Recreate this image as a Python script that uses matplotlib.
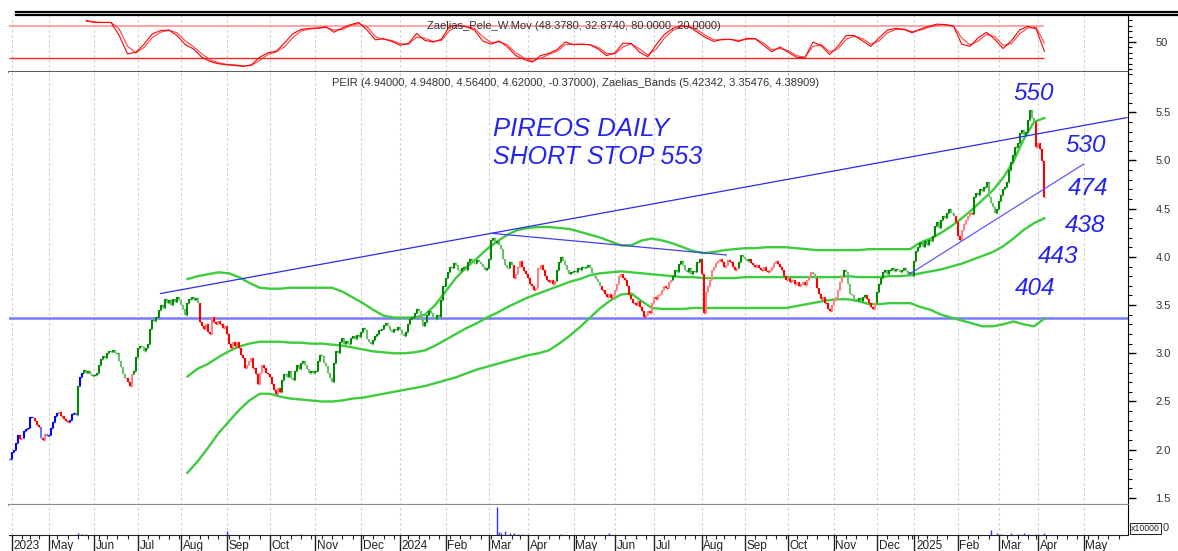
import numpy as np
import pandas as pd
import matplotlib
matplotlib.use("Agg")
import matplotlib.pyplot as plt
from matplotlib.lines import Line2D
from matplotlib.ticker import MultipleLocator, FixedLocator

plt.rcParams["font.family"] = ["Liberation Sans", "DejaVu Sans"]

W, H = 1178, 551

# ── Data ─────────────────────────────────────────────────────────────────────
# ATHEX closing days inside the plotted history
holidays = [
    "2023-04-14", "2023-04-17", "2023-05-01", "2023-06-05", "2023-08-15",
    "2023-12-25", "2023-12-26",
    "2024-01-01", "2024-03-18", "2024-03-25", "2024-05-01", "2024-05-03",
    "2024-05-06", "2024-06-24", "2024-08-15", "2024-10-28", "2024-12-24",
    "2024-12-25", "2024-12-26", "2024-12-31",
    "2025-01-01", "2025-01-06", "2025-03-03", "2025-03-25",
]

# daily closes, one row per month (first row: 31 Mar + April 2023)
close_2023 = [
    1.90, 1.98, 2.00, 2.07, 2.15, 2.11, 2.12, 2.19, 2.21, 2.22, 2.34, 2.33, 2.30, 2.26, 2.24, 2.12, 2.10, 2.16, 2.14,
    2.15, 2.22, 2.29, 2.35, 2.38, 2.39, 2.35, 2.32, 2.30, 2.29, 2.31, 2.37, 2.38, 2.36, 2.66, 2.75, 2.80, 2.83, 2.80, 2.82, 2.78, 2.76,
    2.77, 2.80, 2.88, 2.94, 2.97, 2.95, 3.00, 3.02, 3.01, 3.03, 3.00, 3.00, 2.92, 2.86, 2.78, 2.74, 2.70, 2.66, 2.78, 2.82, 2.96,
    3.05, 3.08, 3.06, 3.02, 3.05, 3.10, 3.25, 3.35, 3.33, 3.38, 3.45, 3.50, 3.47, 3.56, 3.52, 3.55, 3.50, 3.56, 3.53, 3.58, 3.55,
    3.50, 3.46, 3.40, 3.52, 3.56, 3.58, 3.55, 3.57, 3.52, 3.32, 3.28, 3.25, 3.30, 3.22, 3.20, 3.38, 3.32, 3.30, 3.33, 3.30, 3.26, 3.28,
    3.20, 3.10, 3.05, 3.12, 3.08, 3.12, 3.05, 2.98, 2.95, 2.85, 2.88, 2.92, 2.95, 2.85, 2.78, 2.68, 2.80, 2.88, 2.85, 2.80, 2.78,
    2.75, 2.68, 2.62, 2.58, 2.64, 2.60, 2.72, 2.78, 2.75, 2.82, 2.74, 2.72, 2.82, 2.88, 2.84, 2.90, 2.92, 2.88, 2.84, 2.80, 2.82, 2.80,
    2.82, 2.92, 2.98, 2.97, 2.90, 2.87, 2.80, 2.74, 2.70, 2.90, 3.02, 3.00, 3.12, 3.16, 3.10, 3.13, 3.10, 3.16, 3.18, 3.15, 3.19, 3.17,
    3.22, 3.26, 3.24, 3.15, 3.12, 3.10, 3.14, 3.18, 3.20, 3.24, 3.25, 3.29, 3.31, 3.28, 3.24, 3.22, 3.25, 3.24, 3.27,
]
close_2024 = [
    3.24, 3.20, 3.18, 3.22, 3.30, 3.36, 3.38, 3.42, 3.46, 3.44, 3.35, 3.28, 3.32, 3.40, 3.44, 3.42, 3.38, 3.36, 3.40, 3.38, 3.55, 3.70,
    3.78, 3.84, 3.90, 3.88, 3.94, 3.92, 3.86, 3.85, 3.88, 3.90, 3.86, 3.95, 3.98, 3.96, 3.94, 3.97, 3.95, 3.93, 3.90, 3.86, 3.88,
    3.98, 4.18, 4.20, 4.14, 4.16, 4.12, 4.08, 3.98, 3.92, 3.88, 3.95, 3.92, 3.78, 3.82, 3.90, 3.96, 3.90, 3.85, 3.82,
    3.78, 3.72, 3.70, 3.66, 3.68, 3.88, 3.92, 3.86, 3.80, 3.76, 3.74, 3.76, 3.72, 3.75, 3.86, 3.95, 4.00, 3.96, 3.92, 3.86, 3.82, 3.84,
    3.85, 3.84, 3.88, 3.86, 3.89, 3.88, 3.90, 3.92, 3.88, 3.83, 3.80, 3.77, 3.74, 3.70, 3.66, 3.62, 3.58, 3.62, 3.57, 3.60,
    3.66, 3.72, 3.80, 3.82, 3.78, 3.76, 3.70, 3.60, 3.56, 3.52, 3.50, 3.54, 3.48, 3.44, 3.38, 3.40, 3.44, 3.42, 3.52,
    3.58, 3.56, 3.60, 3.62, 3.66, 3.70, 3.68, 3.74, 3.76, 3.80, 3.86, 3.84, 3.93, 3.96, 3.92, 3.86, 3.84, 3.88, 3.82, 3.85, 3.84, 3.95, 3.98,
    3.82, 3.42, 3.64, 3.70, 3.76, 3.86, 3.90, 3.94, 3.96, 3.98, 3.95, 3.90, 3.92, 3.97, 3.95, 3.90, 3.86, 3.88, 3.95, 4.02, 4.00,
    3.98, 3.96, 3.98, 3.94, 3.92, 3.90, 3.92, 3.88, 3.86, 3.89, 3.85, 3.84, 3.86, 3.90, 3.94, 3.96, 3.93, 3.90, 3.86, 3.80, 3.76,
    3.78, 3.74, 3.76, 3.72, 3.74, 3.70, 3.72, 3.74, 3.71, 3.76, 3.80, 3.84, 3.82, 3.78, 3.68, 3.62, 3.56, 3.58, 3.52, 3.46, 3.44, 3.50,
    3.55, 3.58, 3.66, 3.74, 3.80, 3.86, 3.84, 3.72, 3.62, 3.60, 3.56, 3.55, 3.57, 3.54, 3.58, 3.60, 3.56, 3.52, 3.48, 3.46, 3.52,
    3.64, 3.72, 3.78, 3.84, 3.86, 3.82, 3.86, 3.88, 3.85, 3.87, 3.86, 3.84, 3.86, 3.88, 3.85, 3.82, 3.84, 3.80,
]
close_2025 = [
    3.96, 4.06, 4.10, 4.14, 4.10, 4.16, 4.12, 4.18, 4.16, 4.22, 4.32, 4.36, 4.30, 4.38, 4.42, 4.40, 4.46, 4.50, 4.46, 4.42, 4.36,
    4.22, 4.18, 4.28, 4.34, 4.38, 4.42, 4.46, 4.44, 4.62, 4.66, 4.64, 4.70, 4.68, 4.72, 4.78, 4.62, 4.56, 4.52, 4.46, 4.50,
    4.58, 4.64, 4.70, 4.72, 4.78, 4.90, 4.98, 5.06, 5.14, 5.18, 5.28, 5.32, 5.26, 5.30, 5.42, 5.52, 5.44, 5.40, 5.14,
    5.18, 5.12, 4.99, 4.62,
]

# expert colouring of the bars: (first trading-day index, colour)
bar_color_runs = [
    (0, "b"), (5, "r"), (7, "b"), (12, "r"), (15, "b"), (16, "r"), (18, "b"),
    (24, "r"), (29, "b"), (33, "g"), (34, "b"), (36, "g"), (57, "r"), (60, "g"),
    (92, "r"), (132, "g"), (244, "r"), (265, "g"), (287, "r"), (321, "g"),
    (335, "r"), (353, "g"), (359, "r"), (389, "g"), (391, "r"), (404, "g"),
    (415, "r"), (420, "g"), (458, "r"), (467, "g"), (497, "r"),
]

# Zaelias bands, one point every 5 trading days from index 86
band_first, band_step = 86, 5
band_upper = [
    3.77, 3.80, 3.82, 3.84, 3.83, 3.79, 3.73, 3.68, 3.67, 3.67,
    3.68, 3.68, 3.68, 3.68, 3.68, 3.64, 3.58, 3.52, 3.45, 3.39,
    3.37, 3.37, 3.37, 3.40, 3.50, 3.64, 3.78, 3.89, 3.98, 4.08,
    4.16, 4.23, 4.28, 4.30, 4.31, 4.31, 4.30, 4.29, 4.26, 4.23,
    4.20, 4.16, 4.12, 4.12, 4.17, 4.19, 4.17, 4.14, 4.10, 4.06,
    4.04, 4.05, 4.07, 4.08, 4.09, 4.09, 4.10, 4.10, 4.10, 4.09,
    4.08, 4.07, 4.07, 4.07, 4.07, 4.07, 4.08, 4.08, 4.08, 4.08,
    4.08, 4.15, 4.19, 4.25, 4.32, 4.40, 4.49, 4.59, 4.69, 4.82,
    4.99, 5.22, 5.40, 5.44,
]
band_middle = [
    2.76, 2.84, 2.89, 2.96, 3.02, 3.07, 3.10, 3.12, 3.12, 3.12,
    3.11, 3.11, 3.10, 3.10, 3.09, 3.08, 3.06, 3.04, 3.02, 3.01,
    3.00, 3.00, 3.01, 3.03, 3.08, 3.14, 3.20, 3.26, 3.31, 3.37,
    3.42, 3.48, 3.53, 3.58, 3.62, 3.66, 3.70, 3.74, 3.77, 3.81,
    3.83, 3.84, 3.85, 3.84, 3.83, 3.82, 3.81, 3.80, 3.79, 3.79,
    3.78, 3.78, 3.78, 3.78, 3.79, 3.79, 3.79, 3.79, 3.79, 3.79,
    3.79, 3.79, 3.79, 3.79, 3.80, 3.79, 3.79, 3.79, 3.80, 3.80,
    3.81, 3.83, 3.85, 3.87, 3.90, 3.93, 3.97, 4.01, 4.05, 4.11,
    4.19, 4.28, 4.35, 4.40,
]
band_lower = [
    1.76, 1.88, 2.02, 2.17, 2.29, 2.41, 2.51, 2.58, 2.58, 2.55,
    2.53, 2.52, 2.51, 2.50, 2.50, 2.51, 2.53, 2.54, 2.56, 2.58,
    2.60, 2.62, 2.64, 2.66, 2.69, 2.72, 2.75, 2.79, 2.83, 2.86,
    2.89, 2.92, 2.95, 2.98, 3.00, 3.03, 3.10, 3.18, 3.27, 3.37,
    3.47, 3.55, 3.61, 3.62, 3.54, 3.47, 3.46, 3.46, 3.46, 3.47,
    3.47, 3.47, 3.47, 3.47, 3.47, 3.47, 3.47, 3.47, 3.47, 3.49,
    3.51, 3.53, 3.55, 3.56, 3.56, 3.54, 3.51, 3.51, 3.52, 3.52,
    3.52, 3.48, 3.45, 3.40, 3.37, 3.34, 3.31, 3.28, 3.28, 3.30,
    3.33, 3.30, 3.28, 3.36,
]

# Zaelias_Pele_W.Mov, one point every 4 trading days from index 37
osc_first, osc_step = 37, 4
osc_fast = [
    90, 86, 86, 86, 62, 28, 31, 46, 65, 71,
    72, 62, 45, 37, 22, 14, 10, 8, 7, 5,
    8, 22, 30, 33, 48, 65, 73, 75, 76, 78,
    68, 76, 82, 86, 72, 54, 56, 51, 44, 47,
    66, 53, 50, 55, 79, 81, 78, 72, 52, 46,
    52, 41, 25, 18, 13, 25, 29, 36, 50, 45,
    46, 45, 37, 25, 30, 48, 47, 31, 23, 45,
    64, 75, 80, 78, 68, 58, 51, 55, 55, 51,
    57, 56, 44, 32, 41, 31, 22, 21, 50, 43,
    27, 42, 62, 62, 52, 42, 58, 72, 75, 73,
    67, 74, 79, 83, 82, 79, 46, 42, 58, 68,
    55, 38, 52, 72, 79, 74, 33,
]
osc_slow = [
    88, 87, 86, 86, 74, 42, 30, 40, 58, 68,
    72, 67, 52, 41, 28, 17, 12, 9, 8, 6,
    7, 16, 27, 32, 41, 58, 70, 74, 75, 77,
    72, 73, 80, 84, 78, 60, 55, 53, 47, 46,
    59, 57, 51, 53, 71, 80, 79, 75, 60, 49,
    50, 45, 30, 21, 15, 20, 27, 33, 45, 46,
    46, 45, 40, 29, 28, 41, 47, 37, 26, 37,
    57, 71, 78, 79, 72, 62, 54, 54, 55, 53,
    55, 56, 48, 36, 38, 34, 25, 22, 42, 45,
    32, 37, 55, 61, 56, 46, 52, 67, 73, 74,
    69, 72, 77, 81, 82, 80, 57, 45, 52, 64,
    60, 44, 47, 65, 76, 77, 48,
]
osc_levels = (80, 20)

# volume (x10000), only the visible spikes
vol_idx = [33, 35, 37, 105, 141, 236, 237, 238, 240, 242, 244, 246, 248,
           267, 290, 399, 475, 478, 480, 485, 488, 491, 493, 497, 501]
vol_vals = [8, 5, 3, 12, 5, 95, 10, 8, 12, 8, 6, 5, 4,
            5, 6, 3, 18, 6, 5, 6, 5, 6, 5, 4, 6]

# hand-drawn lines: (start date, start price, end date, end price)
trendlines = [
    ("2023-07-18", 3.62, "2025-05-30", 5.445),
    ("2024-03-04", 4.245, "2024-08-20", 4.02),
    ("2024-12-27", 3.826, "2025-05-01", 4.963),
]
support_level = 3.365
price_ticks = [1.5, 2.0, 2.5, 3.0, 3.5, 4.0, 4.5, 5.0, 5.5]

# ── Calendar ─────────────────────────────────────────────────────────────────
days = pd.bdate_range("2023-03-31", "2025-06-06")
days = days[~days.isin(pd.to_datetime(holidays))]


def pos(d):
    return days.get_loc(pd.Timestamp(d))


xlim = (-0.4, 541.5)
last = int(xlim[1])
month_start = [i for i in range(1, last + 1) if days[i].month != days[i - 1].month]
week_start = [i for i in range(1, last + 1) if days[i].weekday() < days[i - 1].weekday()]

# ── Figure / panels ──────────────────────────────────────────────────────────
fig = plt.figure(figsize=(W / 100, H / 100), dpi=100)
fig.patch.set_facecolor("white")


def rect(x0, y0, x1, y1):
    return [x0 / W, 1 - y1 / H, (x1 - x0) / W, (y1 - y0) / H]


ax_osc = fig.add_axes(rect(9, 16, 1128, 72))
ax = fig.add_axes(rect(9, 72, 1128, 505))
ax_vol = fig.add_axes(rect(9, 505, 1128, 535))

for a in (ax_osc, ax, ax_vol):
    a.set_xlim(xlim)
    a.set_facecolor("white")
    for m in month_start:
        a.axvline(m, color="#c8c8c8", lw=0.8, ls=(0, (2, 2.5)), zorder=0)
    a.spines["left"].set_visible(False)
    a.spines["top"].set_visible(False)
    a.spines["right"].set_color("black")
    a.yaxis.tick_right()
    a.tick_params(axis="x", which="both", bottom=False, labelbottom=False)
    a.tick_params(axis="y", which="both", colors="black", labelcolor="#333333")

# ── Oscillator panel ─────────────────────────────────────────────────────────
ox = osc_first + osc_step * np.arange(len(osc_fast))
n_bars = len(close_2023) + len(close_2024) + len(close_2025)
ax_osc.hlines(osc_levels[0], xlim[0], n_bars - 1, color="#ff9c9c", lw=1.3, zorder=1)
ax_osc.hlines(osc_levels[1], xlim[0], n_bars - 1, color="#ff2424", lw=1.0, zorder=1)
ax_osc.plot(ox, osc_slow, color="#ff4040", lw=0.8, zorder=2)
ax_osc.plot(ox, osc_fast, color="#ff0000", lw=0.8, zorder=2)
ax_osc.set_ylim(-5.2, 97.9)
ax_osc.yaxis.set_major_locator(FixedLocator([50]))
ax_osc.yaxis.set_minor_locator(FixedLocator(range(0, 100, 10)))
ax_osc.tick_params(axis="y", which="major", length=5.8, width=1, pad=14, labelsize=8)
ax_osc.tick_params(axis="y", which="minor", length=2.9, width=0.8)
ax_osc.spines["bottom"].set_color("#3c3c3c")
ax_osc.spines["bottom"].set_linewidth(1.2)

# ── Price panel ──────────────────────────────────────────────────────────────
closes = np.array(close_2023 + close_2024 + close_2025)
n = len(closes)
xi = np.arange(n)
prev = np.r_[closes[0], closes[:-1]]

key = np.empty(n, dtype=object)
run_ends = [r[0] for r in bar_color_runs[1:]] + [n]
for (start, k), end in zip(bar_color_runs, run_ends):
    key[start:end] = k

shades = {"g": ("#008a00", "#6cc06c"), "r": ("#ff0000", "#ff8080"), "b": ("#0000ff", "#7474ff")}
bar_cols = []
for c, p, k in zip(closes, prev, key):
    against = (c > p) if k == "r" else (c < p)
    bar_cols.append(shades[k][1 if against else 0])

ax.axhline(support_level, color="#7a7aff", lw=1.8, zorder=1)

bx = band_first + band_step * np.arange(len(band_upper))
for band in (band_upper, band_middle, band_lower):
    ax.plot(bx, band, color="#3ccc3c", lw=1.7, zorder=2)

# bars: body from previous close to close, ticks at both ends
ax.vlines(xi, np.minimum(prev, closes), np.maximum(prev, closes),
          colors=bar_cols, lw=1.5, zorder=3)
ax.hlines(prev, xi - 0.5, xi, colors=bar_cols, lw=1.0, zorder=3)
ax.hlines(closes, xi, xi + 0.5, colors=bar_cols, lw=1.0, zorder=3)

line_cols = ["#2b2bea", "#3f3ff0", "#5a5aff"]
for (d0, p0, d1, p1), lc in zip(trendlines, line_cols):
    ax.plot([pos(d0), pos(d1)], [p0, p1], color=lc, lw=0.9, zorder=4)

ax.set_ylim(1.426, 5.918)
ax.set_yticks(price_ticks)
ax.set_yticklabels([f"{v:.1f}" for v in price_ticks])
ax.yaxis.set_minor_locator(MultipleLocator(0.1))
ax.tick_params(axis="y", which="major", length=5.8, width=1, pad=14, labelsize=8)
ax.tick_params(axis="y", which="minor", length=2.9, width=0.8)
ax.spines["bottom"].set_color("#8a8a8a")
ax.spines["bottom"].set_linewidth(1.6)

# hand-written notes
hand = dict(color="#2424f0", style="italic", zorder=6)
ax.text(pos("2024-03-05"), 5.255, "PIREOS DAILY", fontsize=18.5, **hand)
ax.text(pos("2024-03-05"), 4.965, "SHORT STOP 553", fontsize=18, **hand)
notes = [("550", 485.8, 5.628), ("530", 511.0, 5.088), ("474", 512.5, 4.642),
         ("438", 511.0, 4.258), ("443", 497.9, 3.937), ("404", 486.8, 3.605)]
for txt, nx, ny in notes:
    ax.text(nx, ny, txt, fontsize=17.5, **hand)

# ── Volume panel ─────────────────────────────────────────────────────────────
ax_vol.vlines(vol_idx, 0, vol_vals, color="#3030ff", lw=1.0)
ax_vol.set_ylim(0, 100)
ax_vol.set_yticks([])
ax_vol.spines["bottom"].set_color("#222222")
ax_vol.set_xticks(month_start)
ax_vol.set_xticks(week_start, minor=True)
ax_vol.tick_params(axis="x", which="major", bottom=True, length=11.5, width=1,
                   color="#222222", labelbottom=False)
ax_vol.tick_params(axis="x", which="minor", bottom=True, length=3.2, width=0.8,
                   color="#222222")

for j, m in enumerate(month_start):
    d = days[m]
    label = str(d.year) if (d.month == 1 or j == 0) else d.strftime("%b")
    ax_vol.annotate(label, xy=(m, 0), xycoords=("data", "axes fraction"),
                    xytext=(1.2, -7.6), textcoords="offset points",
                    ha="left", va="center", fontsize=8.5, color="#222222")

# ── Titles & frame decorations ───────────────────────────────────────────────
fig.text(427 / W, 1 - 26 / H, "Zaelias_Pele_W.Mov (48.3780, 32.8740, 80.0000, 20.0000)",
         fontsize=8, color="#333333", va="center")
fig.text(332 / W, 1 - 83 / H,
         "PEIR (4.94000, 4.94800, 4.56400, 4.62000, -0.37000), "
         "Zaelias_Bands (5.42342, 3.35476, 4.38909)",
         fontsize=8, color="#333333", va="center")

for yy in (12.3, 15.3):
    fig.add_artist(Line2D([16 / W, 1.0], [1 - yy / H] * 2, transform=fig.transFigure,
                          color="black", lw=1.6))

# volume scale marker: boxed multiplier followed by the zero label
fig.text(1131 / W, 1 - 528.5 / H, "x10000", fontsize=6.3, color="#222222", va="center",
         bbox=dict(boxstyle="square,pad=0.15", fc="white", ec="#222222", lw=0.7))
fig.text(1163 / W, 1 - 528 / H, "0", fontsize=8, color="#333333", va="center")

fig.savefig("out.png", dpi=100, facecolor="white")
plt.close(fig)
